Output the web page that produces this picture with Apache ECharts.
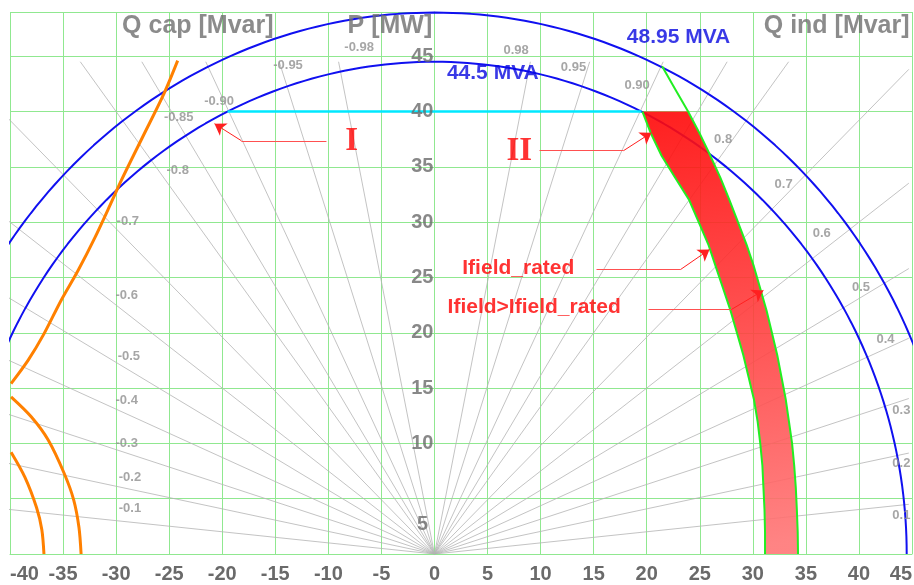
<!DOCTYPE html>
<html><head><meta charset="utf-8">
<script src="https://cdn.jsdelivr.net/npm/echarts@6/dist/echarts.min.js"></script>
<style>html,body{margin:0;padding:0;background:#fff}#c{width:914px;height:585px}</style>
</head><body><div id="c"></div>
<script>
// ---- data ----
const mvaRadii = [44.5, 48.95];
const mvaLabels = ['44.5 MVA', '48.95 MVA'];
const mvaLabelPos = [[5.5, 43.5], [23.0, 46.75]];
const pLimit = 40;                       // active power limit [MW]
const pfValues = [0.1, 0.2, 0.3, 0.4, 0.5, 0.6, 0.7, 0.8, 0.85, 0.9, 0.95, 0.98];
const pfLabelsRight = ['0.1', '0.2', '0.3', '0.4', '0.5', '0.6', '0.7', '0.8', '', '0.90', '0.95', '0.98'];
const pfLabelsLeft = ['-0.1', '-0.2', '-0.3', '-0.4', '-0.5', '-0.6', '-0.7', '-0.8', '-0.85', '-0.90', '-0.95', '-0.98'];
const pfLabelPosRight = [[44.0, 3.5], [44.0, 8.2], [44.0, 13.0], [42.5, 19.4], [40.2, 24.1], [36.5, 29.0], [32.9, 33.4], [27.2, 37.5], null, [19.1, 42.4], [13.1, 44.0], [7.7, 45.5]];
const pfLabelPosLeft = [[-28.7, 4.1], [-28.7, 6.9], [-29.0, 10.0], [-29.0, 13.9], [-28.8, 17.9], [-29.0, 23.4], [-28.9, 30.1], [-24.2, 34.7], [-24.1, 39.5], [-20.3, 40.9], [-13.8, 44.2], [-7.1, 45.8]];
const pfLineMaxP = 44.5, pfLineMaxQ = 44.7;
// stability limit curves (Q, P)
const stabilityCurve = [[-39.9, 15.4], [-38.3, 17.5], [-36.8, 19.9], [-35.2, 22.9], [-33.6, 25.6], [-32.0, 28.6], [-30.4, 31.9], [-29.5, 33.8], [-27.5, 37.7], [-25.5, 41.6], [-24.2, 44.6]];
const arcA = [[-39.9, 14.2], [-38.0, 12.4], [-36.4, 10.3], [-34.9, 7.3], [-34.0, 4.9], [-33.5, 2.4], [-33.3, 0]];
const arcB = [[-39.9, 9.2], [-38.6, 6.95], [-37.5, 4.2], [-37.0, 2.2], [-36.8, 0]];
// field current limits (Q, P)
const fieldRated = [[19.6, 40], [20.4, 38], [21.4, 36], [22.7, 34], [24.0, 32], [24.9, 30], [25.8, 28], [26.5, 26], [27.2, 24], [27.9, 22], [28.5, 20], [29.1, 18], [29.6, 16], [30.1, 14], [30.45, 12], [30.7, 10], [30.9, 8], [31.0, 6], [31.1, 4], [31.15, 2], [31.15, 0]];
const fieldOver = [[21.45, 44.1], [22.7, 42], [23.9, 40], [25.0, 38], [26.0, 36], [26.95, 34], [27.8, 32], [28.6, 30], [29.4, 28], [30.1, 26], [30.7, 24], [31.3, 22], [31.8, 20], [32.3, 18], [32.7, 16], [33.1, 14], [33.4, 12], [33.7, 10], [33.9, 8], [34.05, 6], [34.15, 4], [34.23, 2], [34.26, 0]];
// annotations
const annoTexts = ['I', 'II', 'Ifield_rated', 'Ifield>Ifield_rated'];
const annoPos = [[-7.8, 37.3], [8.0, 36.4], [7.9, 25.8], [9.4, 22.3]];
const leaders = [
  [[-10.18, 37.36], [-18.19, 37.36], [-20.73, 38.9]],
  [[9.9, 36.46], [17.81, 36.46], [20.45, 38.09]],
  [[15.27, 25.72], [23.19, 25.72], [25.92, 27.53]],
  [[20.17, 22.11], [27.99, 22.11], [31.0, 23.83]]
];
const axisTitles = ['Q cap [Mvar]', 'P [MW]', 'Q ind [Mvar]'];
const axisTitlePos = [[-22.3, 47.7], [-4.2, 47.7], [37.9, 47.7]];
const yTickLabels = [10, 15, 20, 25, 30, 35, 40, 45];
const yLowLabel = { text: '5', pos: [-0.5, 2.7] };
const xMin = -40, xMax = 45, yMin = 0, yMax = 49, tickStep = 5;

// ---- build ----
const SANS = '"Liberation Sans", Arial, sans-serif';
const circle = r => { const a = []; for (let d = 0; d <= 180; d += 1) { const t = d * Math.PI / 180; a.push([r * Math.cos(t), r * Math.sin(t)]); } return a; };
const pfLines = [];
pfValues.forEach(pf => {
  const s = Math.sqrt(1 - pf * pf);
  const R = Math.min(pfLineMaxP / pf, pfLineMaxQ / s);
  pfLines.push({ coords: [[0, 0], [R * s, R * pf]] });
  pfLines.push({ coords: [[0, 0], [-R * s, R * pf]] });
});
const pfLabelData = [];
pfLabelsRight.forEach((t, i) => { if (t && pfLabelPosRight[i]) pfLabelData.push({ value: pfLabelPosRight[i], name: t }); });
pfLabelsLeft.forEach((t, i) => { if (t) pfLabelData.push({ value: pfLabelPosLeft[i], name: t }); });
const xCyan = Math.sqrt(mvaRadii[0] ** 2 - pLimit ** 2);
const region = fieldRated.concat(fieldOver.filter(p => p[1] <= pLimit).slice().reverse());

const blue = '#1010f0';
const series = [];
series.push({ type: 'lines', coordinateSystem: 'cartesian2d', clip: true, silent: true, z: 2,
  lineStyle: { color: '#b4b4b4', width: 0.8, opacity: 1 }, data: pfLines });
mvaRadii.forEach(r => series.push({ type: 'line', data: circle(r), showSymbol: false, clip: true, z: 3,
  lineStyle: { color: blue, width: 2 }, silent: true }));
series.push({ type: 'line', data: [[-xCyan, pLimit], [xCyan, pLimit]], showSymbol: false, z: 4,
  lineStyle: { color: '#00e8ff', width: 2.5 } });
series.push({ type: 'custom', z: 5, data: [0], renderItem: (params, api) => ({
  type: 'polygon', shape: { points: region.map(p => api.coord(p)) },
  style: { opacity: 0.9, fill: new echarts.graphic.LinearGradient(0, 0, 0.5, 1, [{ offset: 0, color: '#ff0606' }, { offset: 1, color: '#ff7676' }]) }
}) });
[fieldRated, fieldOver].forEach(c => series.push({ type: 'line', data: c, showSymbol: false, z: 6,
  lineStyle: { color: '#22ee22', width: 2 } }));
[stabilityCurve, arcA, arcB].forEach(c => series.push({ type: 'line', data: c, showSymbol: false, smooth: 0.3, clip: true, z: 7,
  lineStyle: { color: '#ff8000', width: 3 } }));
series.push({ type: 'lines', coordinateSystem: 'cartesian2d', z: 8, symbol: ['none', 'none'],
  lineStyle: { color: '#ff5050', width: 1, opacity: 1 },
  data: leaders.map(c => ({ coords: [c[0], c[1]] })) });
series.push({ type: 'lines', coordinateSystem: 'cartesian2d', z: 8, symbol: ['none', 'arrow'], symbolSize: 11,
  lineStyle: { color: '#ff2020', width: 1, opacity: 1 },
  data: leaders.map(c => ({ coords: [c[1], c[2]] })) });
const textSeries = (data, style) => ({ type: 'scatter', symbolSize: 0, z: 10, silent: true, clip: false,
  data: data, label: Object.assign({ show: true, position: 'inside', formatter: p => p.data.name }, style) });
const axisTxt = { color: '#6a6a6a', fontSize: 20, fontWeight: 'bold', fontFamily: SANS };
series.push(textSeries(pfLabelData, { color: '#909090', fontSize: 13, fontWeight: 'bold', fontFamily: SANS }));
series.push(textSeries(mvaLabels.map((t, i) => ({ value: mvaLabelPos[i], name: t })), { color: '#0808e0', fontSize: 21, fontWeight: 'bold', fontFamily: SANS }));
series.push(textSeries(axisTitles.map((t, i) => ({ value: axisTitlePos[i], name: t })), { color: '#6e6e6e', fontSize: 25, fontWeight: 'bold', fontFamily: SANS }));
series.push(textSeries(annoTexts.map((t, i) => ({ value: annoPos[i], name: t,
  label: i < 2 ? { fontFamily: '"Liberation Serif", "Times New Roman", serif', fontSize: 33 } : {} })),
  { color: '#ff0000', fontSize: 21, fontWeight: 'bold', fontFamily: SANS }));
series.push(textSeries(yTickLabels.map(v => ({ value: [0, v], name: String(v) })).concat([{ value: yLowLabel.pos, name: yLowLabel.text }]),
  Object.assign({ position: 'left', distance: 1 }, axisTxt)));

const chart = echarts.init(document.getElementById('c'), null, { renderer: 'canvas' });
chart.setOption({
  animation: false,
  backgroundColor: '#ffffff',
  grid: { left: 10, right: 2, top: 12, bottom: 31, containLabel: false, outerBoundsMode: 'none' },
  xAxis: { type: 'value', min: xMin, max: xMax, interval: tickStep,
    axisLine: { show: true, onZero: false, lineStyle: { color: '#90e890' } }, axisTick: { show: false },
    splitLine: { show: true, lineStyle: { color: '#90e890', width: 1 } },
    axisLabel: Object.assign({ margin: 10, alignMinLabel: 'left', alignMaxLabel: 'right', showMinLabel: true, showMaxLabel: true }, axisTxt) },
  yAxis: { type: 'value', min: yMin, max: yMax, interval: tickStep,
    axisLine: { show: true, lineStyle: { color: '#90e890' } }, axisTick: { show: false },
    splitLine: { show: true, lineStyle: { color: '#90e890', width: 1 } },
    axisLabel: { show: false } },
  series: series
});
</script></body></html>
